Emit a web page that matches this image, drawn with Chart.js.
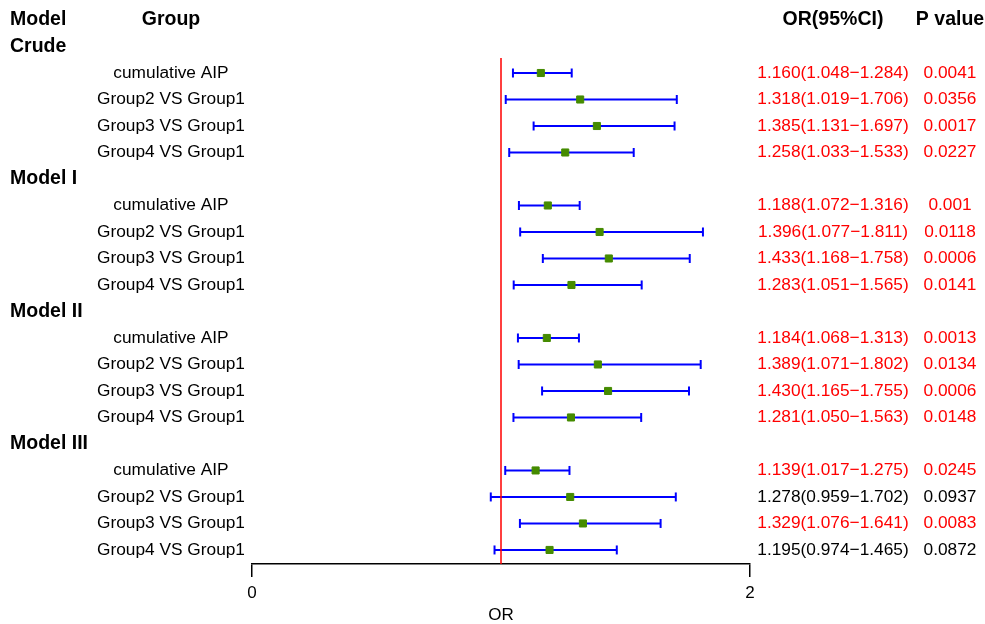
<!DOCTYPE html>
<html>
<head>
<meta charset="utf-8">
<script src="https://cdn.jsdelivr.net/npm/chart.js@4"></script>
<style>
  html, body { margin: 0; padding: 0; background: #fff; }
  #wrap { width: 985px; height: 624px; }
</style>
</head>
<body>
<div id="wrap"><canvas id="forest"></canvas></div>
<script>
/* Data */
let models = ['Crude', 'Model I', 'Model II', 'Model III']
let groups = ['cumulative AIP', 'Group2 VS Group1', 'Group3 VS Group1', 'Group4 VS Group1']

// one value per (model, group), models in order above
let oddsRatio = [1.160, 1.318, 1.385, 1.258,
                 1.188, 1.396, 1.433, 1.283,
                 1.184, 1.389, 1.430, 1.281,
                 1.139, 1.278, 1.329, 1.195]
let lowerCI = [1.048, 1.019, 1.131, 1.033,
               1.072, 1.077, 1.168, 1.051,
               1.068, 1.071, 1.165, 1.050,
               1.017, 0.959, 1.076, 0.974]
let upperCI = [1.284, 1.706, 1.697, 1.533,
               1.316, 1.811, 1.758, 1.565,
               1.313, 1.802, 1.755, 1.563,
               1.275, 1.702, 1.641, 1.465]
let pValues = [0.0041, 0.0356, 0.0017, 0.0227,
               0.001, 0.0118, 0.0006, 0.0141,
               0.0013, 0.0134, 0.0006, 0.0148,
               0.0245, 0.0937, 0.0083, 0.0872]

let xTicks = [0, 2]
let refValue = 1

/* row layout: row 0 = header, then each model takes a title row + 4 group rows */
function modelRow(m) { return 1 + m * 5 }
function itemRow(m, g) { return 2 + m * 5 + g }

let yMin = -0.755
let yMax = 20.53

let FONT = '"Liberation Sans", Arial, Helvetica, sans-serif'

/* build datasets */
let datasets = []
let caps = []
let points = []
for (let m = 0; m < models.length; m++) {
    for (let g = 0; g < groups.length; g++) {
        let i = m * groups.length + g
        let r = itemRow(m, g)
        datasets.push({
            type: 'line',
            data: [ {x: lowerCI[i], y: r}, {x: upperCI[i], y: r} ],
            borderColor: '#0000ff',
            borderWidth: 2,
            pointRadius: 0,
            order: 3
        })
        caps.push({x: lowerCI[i], y: r}, {x: upperCI[i], y: r})
        points.push({x: oddsRatio[i], y: r})
    }
}
datasets.push({
    type: 'scatter',
    data: caps,
    pointStyle: 'line',
    rotation: 90,
    pointRadius: 4.5,
    borderColor: '#0000ff',
    borderWidth: 2,
    order: 3
})
// reference line at OR = 1
datasets.push({
    type: 'line',
    data: [ {x: refValue, y: 1.43}, {x: refValue, y: yMax} ],
    borderColor: '#ff0000',
    borderWidth: 1.5,
    pointRadius: 0,
    order: 2
})
datasets.push({
    type: 'scatter',
    data: points,
    pointStyle: 'rect',
    pointRadius: 5,
    backgroundColor: '#458b00',
    borderColor: '#458b00',
    borderWidth: 1,
    order: 1
})

/* table text drawn beside the plot, rows placed with the y scale */
let tableText = {
    id: 'tableText',
    afterDraw(chart) {
        let ctx = chart.ctx
        let y = chart.scales.y
        ctx.save()
        ctx.textBaseline = 'middle'

        ctx.fillStyle = '#000'
        ctx.font = 'bold 19.5px ' + FONT
        ctx.textAlign = 'left'
        ctx.fillText('Model', 10, y.getPixelForValue(0))
        ctx.textAlign = 'center'
        ctx.fillText('Group', 171, y.getPixelForValue(0))
        ctx.fillText('OR(95%CI)', 833, y.getPixelForValue(0))
        ctx.fillText('P value', 950, y.getPixelForValue(0))

        for (let m = 0; m < models.length; m++) {
            ctx.font = 'bold 19.5px ' + FONT
            ctx.textAlign = 'left'
            ctx.fillStyle = '#000'
            ctx.fillText(models[m], 10, y.getPixelForValue(modelRow(m)))

            ctx.font = '17.3px ' + FONT
            for (let g = 0; g < groups.length; g++) {
                let i = m * groups.length + g
                let py = y.getPixelForValue(itemRow(m, g))
                ctx.textAlign = 'center'
                ctx.fillStyle = '#000'
                ctx.fillText(groups[g], 171, py)

                ctx.fillStyle = pValues[i] < 0.05 ? '#ff0000' : '#000'
                let ci = oddsRatio[i].toFixed(3) + '(' + lowerCI[i].toFixed(3) + '\u2212' + upperCI[i].toFixed(3) + ')'
                ctx.fillText(ci, 833, py)
                ctx.fillText(String(pValues[i]), 950, py)
            }
        }
        ctx.restore()
    }
}

let ctx = document.querySelector('#forest').getContext('2d')
let forest = new Chart(ctx, {
    data: { datasets: datasets },
    options: {
        responsive: true,
        maintainAspectRatio: false,
        animation: false,
        layout: { autoPadding: false, padding: { left: 252, right: 235, top: 0, bottom: 0 } },
        plugins: {
            legend: { display: false },
            tooltip: { enabled: false }
        },
        scales: {
            x: {
                type: 'linear',
                min: xTicks[0],
                max: xTicks[xTicks.length - 1],
                afterBuildTicks(scale) { scale.ticks = xTicks.map(v => ({ value: v })) },
                afterFit(scale) { scale.height = 60 },  // fixed room under the plot
                grid: { drawOnChartArea: false, drawTicks: true, tickLength: 13, color: '#000', lineWidth: 1.5 },
                border: { display: true, color: '#000', width: 1.5 },
                ticks: { color: '#000', padding: 6, font: { family: FONT, size: 17 } },
                title: { display: true, text: 'OR', color: '#000', padding: { top: 0, bottom: 0 }, font: { family: FONT, size: 17, lineHeight: 1 } }
            },
            y: {
                type: 'linear',
                display: false,
                reverse: true,
                min: yMin,
                max: yMax
            }
        }
    },
    plugins: [tableText]
})
</script>
</body>
</html>
